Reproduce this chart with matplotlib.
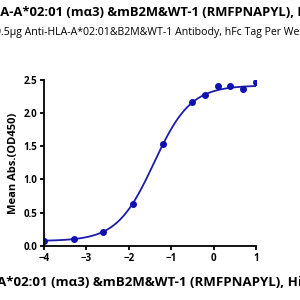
import numpy as np
import matplotlib
matplotlib.use("Agg")
import matplotlib.pyplot as plt

plt.rcParams['font.family'] = ['Open Sans', 'DejaVu Sans']

# measured points (log10 concentration, OD450)
log_conc = [-4.0, -3.3, -2.6, -1.9, -1.2, -0.5, -0.2, 0.1, 0.4, 0.7, 1.0]
od450 = [0.075, 0.10, 0.21, 0.63, 1.53, 2.17, 2.28, 2.41, 2.41, 2.36, 2.47]

# 4PL fit parameters
bottom, top, log_ec50, hill = 0.07, 2.42, -1.41, 1.0

title = "HLA-A*02:01 (m\u03b13) &mB2M&WT-1 (RMFPNAPYL), His Tag"
subtitle = "0.5\u03bcg Anti-HLA-A*02:01&B2M&WT-1 Antibody, hFc Tag Per Well"
xlabel = "HLA-A*02:01 (m\u03b13) &mB2M&WT-1 (RMFPNAPYL), His Tag"
ylabel = "Mean Abs.(OD450)"

fig = plt.figure(figsize=(3, 3), dpi=100)
ax = fig.add_axes([0.147, 0.181, 0.706, 0.552])

xs = np.linspace(-4, 1, 300)
fit = bottom + (top - bottom) / (1 + 10 ** ((log_ec50 - xs) * hill))
ax.plot(xs, fit, color='#1c1ca8', lw=1.3)
ax.plot(log_conc, od450, 'o', color='#1010b0', ms=4)

ax.set_xlim(-4, 1)
ax.set_ylim(0, 2.5)
ax.set_xticks([-4, -3, -2, -1, 0, 1])
ax.set_yticks([0, 0.5, 1.0, 1.5, 2.0, 2.5])
ax.set_yticklabels(['0.0', '0.5', '1.0', '1.5', '2.0', '2.5'])
for s in ['top', 'right']:
    ax.spines[s].set_visible(False)
for s in ['left', 'bottom']:
    ax.spines[s].set_linewidth(1.3)
ax.tick_params(width=1.3, length=3, labelsize=7, pad=2)
for lab in ax.get_xticklabels() + ax.get_yticklabels():
    lab.set_fontweight('bold')

ax.set_ylabel(ylabel, fontsize=8, fontweight='bold', labelpad=3)
fig.text(-0.113, 0.057, xlabel, ha='left', va='center', fontsize=9.5, fontweight='bold')
fig.text(-0.056, 0.958, title, ha='left', va='center', fontsize=9.35, fontweight='bold')
fig.text(-0.018, 0.893, subtitle, ha='left', va='center', fontsize=7.6)

fig.savefig('out.png', dpi=100)
